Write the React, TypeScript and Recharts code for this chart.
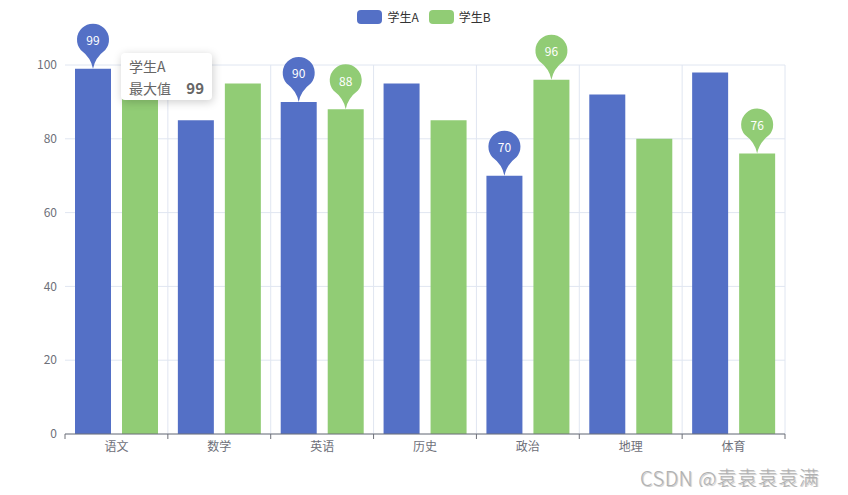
import React from "react";
import {
  BarChart,
  Bar,
  XAxis,
  YAxis,
  CartesianGrid,
  LabelList,
} from "recharts";

const subjects = ["语文", "数学", "英语", "历史", "政治", "地理", "体育"];
const studentA = [99, 85, 90, 95, 70, 92, 98];
const studentB = [92, 95, 88, 85, 96, 80, 76];
// indices that carry a pin marker
const pinsA = [0, 2, 4];
const pinsB = [2, 4, 6];
const yTicks = [0, 20, 40, 60, 80, 100];

const W = 848;
const H = 495;
const M = { top: 65, right: 63, left: 0, bottom: 0 };
const Y_W = 65;
const X_H = 61;
const BAND = (W - M.left - M.right - Y_W) / subjects.length;

const data = subjects.map((s, i) => ({ name: s, a: studentA[i], b: studentB[i] }));

const pinPath = (cx: number, tip: number) => {
  const r = 16;
  const cy = tip - 29;
  const dx = r * Math.sin((50 * Math.PI) / 180);
  const dy = r * Math.cos((50 * Math.PI) / 180);
  return (
    `M${cx},${tip} ` +
    `Q${cx - 2},${cy + r + 2} ${cx - dx},${cy + dy} ` +
    `A${r},${r} 0 1 1 ${cx + dx},${cy + dy} ` +
    `Q${cx + 2},${cy + r + 2} ${cx},${tip} Z`
  );
};

const makePin = (marks: number[], color: string) => (props: any) => {
  const { x, y, width, value, index } = props;
  if (!marks.includes(index)) return null;
  const cx = Number(x) + Number(width) / 2;
  const tip = Number(y);
  return (
    <g>
      <path d={pinPath(cx, tip)} fill={color} />
      <text
        x={cx}
        y={tip - 29}
        textAnchor="middle"
        dominantBaseline="central"
        fill="#fff"
        fontSize={12}
      >
        {value}
      </text>
    </g>
  );
};

const XTick = (props: any) => {
  const { x, y, payload, index } = props;
  const axisY = H - M.bottom - X_H;
  return (
    <g>
      <line x1={x - BAND / 2} x2={x - BAND / 2} y1={axisY} y2={axisY + 5} stroke="#6e7079" />
      {index === subjects.length - 1 && (
        <line x1={x + BAND / 2} x2={x + BAND / 2} y1={axisY} y2={axisY + 5} stroke="#6e7079" />
      )}
      <text x={x} y={y} dy="0.71em" textAnchor="middle" fill="#6e7079" fontSize={12}>
        {payload.value}
      </text>
    </g>
  );
};

const legendItem = (label: string, color: string) => (
  <div style={{ display: "flex", alignItems: "center", marginRight: 10 }}>
    <span
      style={{
        width: 25,
        height: 14,
        borderRadius: 4,
        background: color,
        display: "inline-block",
        marginRight: 5,
      }}
    />
    <span style={{ fontSize: 12, color: "#333" }}>{label}</span>
  </div>
);

export default function App() {
  return (
    <div
      style={{
        position: "relative",
        width: W,
        height: H,
        margin: -8,
        background: "#fff",
        fontFamily: "'Microsoft YaHei', 'Noto Sans CJK SC', sans-serif",
      }}
    >
      <BarChart width={W} height={H} data={data} margin={M} barSize={36} barGap={11}>
        <CartesianGrid
          stroke="#e0e6f1"
          verticalCoordinatesGenerator={({ offset }: any) =>
            subjects.map((_, i) => offset.left + ((i + 1) * offset.width) / subjects.length)
          }
        />
        <XAxis
          dataKey="name"
          height={X_H}
          stroke="#6e7079"
          tickLine={false}
          tick={<XTick />}
          interval={0}
        />
        <YAxis
          width={Y_W}
          domain={[0, 100]}
          ticks={yTicks}
          axisLine={false}
          tickLine={false}
          tick={{ fill: "#6e7079", fontSize: 12 }}
        />
        <Bar dataKey="a" fill="#5470c6" isAnimationActive={false}>
          <LabelList dataKey="a" content={makePin(pinsA, "#5470c6")} />
        </Bar>
        <Bar dataKey="b" fill="#91cc75" isAnimationActive={false}>
          <LabelList dataKey="b" content={makePin(pinsB, "#91cc75")} />
        </Bar>
      </BarChart>

      <div
        style={{
          position: "absolute",
          top: 8,
          left: 0,
          width: W,
          display: "flex",
          justifyContent: "center",
          paddingLeft: 10,
          boxSizing: "border-box",
        }}
      >
        {legendItem("学生A", "#5470c6")}
        {legendItem("学生B", "#91cc75")}
      </div>

      <div
        style={{
          position: "absolute",
          left: 121,
          top: 53,
          width: 91,
          height: 47,
          boxSizing: "border-box",
          padding: "2px 8px",
          background: "#fff",
          borderRadius: 4,
          boxShadow: "rgba(0,0,0,0.2) 1px 2px 10px",
          color: "#666",
          fontSize: 14,
          lineHeight: "22px",
        }}
      >
        <div>学生A</div>
        <div style={{ display: "flex", justifyContent: "space-between" }}>
          <span>最大值</span>
          <span style={{ fontWeight: 700, fontSize: 15 }}>99</span>
        </div>
      </div>

      <div
        style={{
          position: "absolute",
          left: 640,
          top: 463,
          fontSize: 20,
          fontWeight: 300,
          letterSpacing: 0.5,
          color: "#b0b0b0",
          textShadow: "1px 1px 1px rgba(0,0,0,0.25)",
          whiteSpace: "nowrap",
        }}
      >
        CSDN @袁袁袁袁满
      </div>
    </div>
  );
}
